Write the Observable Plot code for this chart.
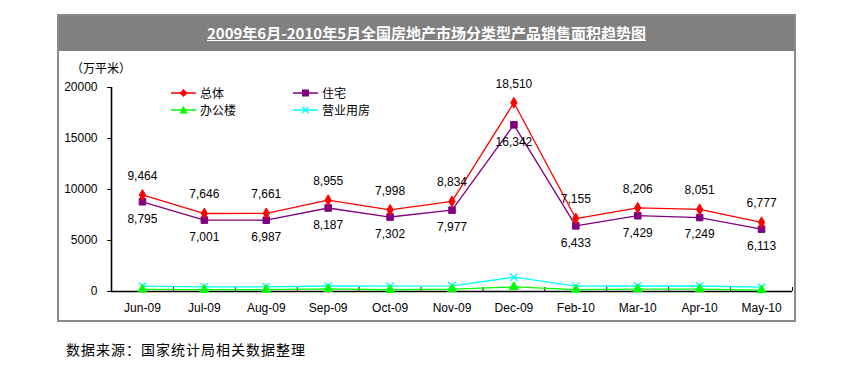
<!DOCTYPE html>
<html>
<head>
<meta charset="utf-8">
<script src="https://cdn.jsdelivr.net/npm/d3@7"></script>
<script src="https://cdn.jsdelivr.net/npm/@observablehq/plot@0.6"></script>
<style>
  body { margin: 0; background: #fff; }
  #wrap { position: relative; width: 847px; height: 371px; overflow: hidden; font-family: "Liberation Sans", Arial, sans-serif; }
  #frame { position: absolute; left: 57px; top: 14px; width: 739px; height: 308px; box-sizing: border-box; border: 2px solid #8a8a8a; }
  #band { position: absolute; left: 0; top: 0; right: 0; height: 35px; background: #808080; }
  #title { position: absolute; left: 0; right: 0; top: 8px; text-align: center; color: #fff; font-family: "Noto Sans CJK SC", sans-serif; font-weight: bold; font-size: 15px; line-height: 18px; text-decoration: underline; }
  #unit { position: absolute; left: 71px; top: 60px; font-family: "Noto Sans CJK SC", sans-serif; font-size: 12px; line-height: 16px; }
  #source { position: absolute; left: 66px; top: 340px; font-family: "Noto Sans CJK SC", sans-serif; font-size: 14px; letter-spacing: 1px; line-height: 18px; }
  #chart { position: absolute; left: 0; top: 0; }
  .lg { position: absolute; display: flex; align-items: center; font-family: "Noto Sans CJK SC", sans-serif; font-size: 12px; line-height: 14px; }
  .lg svg { margin-right: 4px; }
</style>
</head>
<body>
<div id="wrap">
  <div id="frame"><div id="band"></div><div id="title">2009年6月-2010年5月全国房地产市场分类型产品销售面积趋势图</div></div>
  <div id="unit">（万平米）</div>
  <div id="legend"></div>
  <div id="chart"></div>
  <div id="source">数据来源：国家统计局相关数据整理</div>
</div>
<script>
const months = ["Jun-09","Jul-09","Aug-09","Sep-09","Oct-09","Nov-09","Dec-09","Feb-10","Mar-10","Apr-10","May-10"];
const total = [9464, 7646, 7661, 8955, 7998, 8834, 18510, 7155, 8206, 8051, 6777];
const housing = [8795, 7001, 6987, 8187, 7302, 7977, 16342, 6433, 7429, 7249, 6113];
const office = [200, 180, 190, 250, 170, 240, 450, 180, 230, 230, 130];
const commercial = [520, 450, 460, 540, 520, 560, 1400, 520, 540, 540, 420];
const yTicks = [0, 5000, 10000, 15000, 20000];

const seriesNames = ["总体", "住宅", "办公楼", "营业用房"];
const seriesColors = ["#ff0000", "#800080", "#00ff00", "#00ffff"];
const seriesSymbols = ["diamond", "square", "triangle", "times"];
const seriesValues = [total, housing, office, commercial];

const rows = [];
seriesValues.forEach((vals, s) => vals.forEach((v, i) => rows.push({series: seriesNames[s], i, v})));

const xDomain = [-0.5, months.length - 0.5];
const boundaries = d3.range(months.length + 1).map(k => k - 0.5);
const fmt = d3.format(",");

const drawOrder = [3, 2, 1, 0];
const marks = [
  Plot.ruleY([0], {stroke: "#000", strokeWidth: 1.6}),
  Plot.ruleX([xDomain[0]], {stroke: "#000", strokeWidth: 1.6}),
  Plot.axisY({ticks: yTicks, tickSize: 4, tickPadding: 10, tickFormat: d3.format("d"), fontSize: 12, stroke: "#000", label: null}),
  Plot.axisX({ticks: boundaries, tickSize: -4, tickFormat: () => "", stroke: "#000", label: null}),
  Plot.axisX({ticks: d3.range(months.length), tickSize: 0, tickPadding: 12, tickFormat: i => months[i], fontSize: 12, label: null})
];
for (const s of drawOrder) {
  const data = rows.filter(r => r.series === seriesNames[s]);
  marks.push(Plot.line(data, {x: "i", y: "v", stroke: seriesColors[s], strokeWidth: 1.3}));
}
const symR = {diamond: 3.3, square: 3.7, triangle: 3.3, times: 3.5};
for (const s of drawOrder) {
  const data = rows.filter(r => r.series === seriesNames[s]);
  const sym = seriesSymbols[s];
  if (sym === "times") {
    marks.push(Plot.dot(data, {x: "i", y: "v", symbol: sym, r: symR[sym], stroke: seriesColors[s], strokeWidth: 1.3}));
  } else {
    marks.push(Plot.dot(data, {x: "i", y: "v", symbol: sym, r: symR[sym], fill: seriesColors[s], stroke: seriesColors[s], strokeWidth: 1}));
  }
}
marks.push(Plot.text(rows.filter(r => r.series === "总体"), {x: "i", y: "v", text: d => fmt(d.v), dy: -19, fontSize: 12, fill: "#000"}));
marks.push(Plot.text(rows.filter(r => r.series === "住宅"), {x: "i", y: "v", text: d => fmt(d.v), dy: 17, fontSize: 12, fill: "#000"}));

const chart = Plot.plot({
  width: 847,
  height: 371,
  marginLeft: 111,
  marginRight: 55,
  marginTop: 87,
  marginBottom: 80,
  style: {background: "transparent", fontFamily: "'Liberation Sans', Arial, sans-serif", fontSize: "12px", color: "#000"},
  x: {type: "linear", domain: xDomain, axis: null},
  y: {domain: [0, 20000], axis: null},
  marks
});
document.getElementById("chart").appendChild(chart);

// legend
const legendPos = [[171, 86], [293, 86], [171, 103], [293, 103]];
const legend = document.getElementById("legend");
seriesNames.forEach((name, s) => {
  const el = document.createElement("div");
  el.className = "lg";
  el.style.left = legendPos[s][0] + "px";
  el.style.top = legendPos[s][1] + "px";
  const c = seriesColors[s];
  let marker = "";
  if (seriesSymbols[s] === "diamond") marker = `<path d="M12.5,3 L16.5,7 L12.5,11 L8.5,7Z" fill="${c}"/>`;
  else if (seriesSymbols[s] === "square") marker = `<rect x="9" y="3.5" width="7" height="7" fill="${c}"/>`;
  else if (seriesSymbols[s] === "triangle") marker = `<path d="M12.5,2.5 L16.5,10.5 L8.5,10.5Z" fill="${c}"/>`;
  else marker = `<path d="M9.5,4 L15.5,10 M15.5,4 L9.5,10" stroke="${c}" stroke-width="1.5"/>`;
  el.innerHTML = `<svg width="25" height="14"><line x1="0" y1="7" x2="25" y2="7" stroke="${c}" stroke-width="1.5"/>${marker}</svg><span>${name}</span>`;
  legend.appendChild(el);
});
</script>
</body>
</html>
